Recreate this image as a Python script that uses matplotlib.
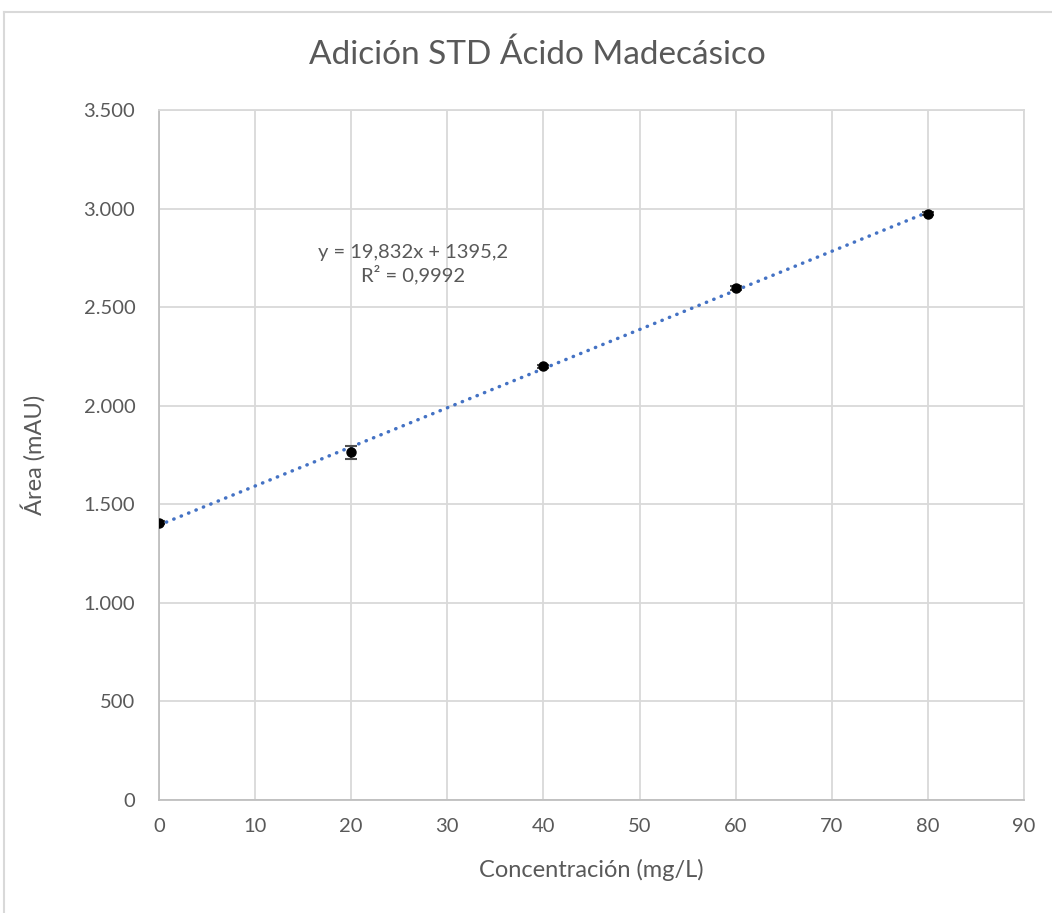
#!/usr/bin/env python3
import numpy as np
import matplotlib.pyplot as plt
from matplotlib.ticker import FuncFormatter, MultipleLocator
from matplotlib.lines import Line2D

conc = [0, 20, 40, 60, 80]
area = [1406, 1764, 2199, 2597, 2974]
area_err = [8, 33, 10, 8, 8]
eq_text = "y = 19,832x + 1395,2\nR² = 0,9992"

plt.rcParams['font.family'] = ['Lato', 'DejaVu Sans']
TXT = '#595959'
GRID = '#d9d9d9'

fig = plt.figure(figsize=(10.52, 9.13), dpi=100)
ax = fig.add_axes([0.1511, 0.1238, 0.8223, 0.7557])

# trendline (least squares, like Excel)
slope, icpt = np.polyfit(conc, area, 1)
xs = np.array([0, 80])
ax.plot(xs, slope * xs + icpt, ls=(0, (0.1, 2.2)), lw=2.5, color='#4472C4',
        dash_capstyle='round', zorder=3)

ax.errorbar(conc, area, yerr=area_err, fmt='o', color='black', ms=6.5,
            ecolor='#505050', elinewidth=1.3, capsize=4.5, capthick=1.5, zorder=4)

ax.text(26.4, 2718, eq_text, ha='center', va='center', fontsize=14.5,
        color=TXT, linespacing=1.25)

ax.set_xlim(0, 90)
ax.set_ylim(0, 3500)
ax.xaxis.set_major_locator(MultipleLocator(10))
ax.yaxis.set_major_locator(MultipleLocator(500))
ax.yaxis.set_major_formatter(FuncFormatter(lambda v, p: f"{int(v):,}".replace(',', '.')))
ax.grid(True, color=GRID, lw=1.3)
ax.set_axisbelow(True)
for s in ax.spines.values():
    s.set_color(GRID)
    s.set_linewidth(1.3)
ax.spines['left'].set_color('#bfbfbf')
ax.spines['bottom'].set_color('#bfbfbf')
ax.tick_params(length=0, labelsize=14.5, labelcolor=TXT)
ax.tick_params(axis='y', pad=17)
ax.tick_params(axis='x', pad=13)

fig.text(537 / 1052, 1 - 55 / 913, "Adición STD Ácido Madecásico", fontsize=24,
         color=TXT, ha='center', va='center')
ax.set_xlabel("Concentración (mg/L)", fontsize=17, color=TXT)
ax.set_ylabel("Área (mAU)", fontsize=17, color=TXT)
ax.xaxis.set_label_coords(0.5, -0.101)
ax.yaxis.set_label_coords(-0.146, 0.5)
ax.xaxis.label.set_va('center')
ax.yaxis.label.set_va('center')

# chart frame (top and left edges visible)
x0, y0 = 4 / 1052, 1 - 12 / 913
fig.add_artist(Line2D([x0, 1], [y0, y0], color=GRID, lw=1.5))
fig.add_artist(Line2D([x0, x0], [0, y0], color=GRID, lw=1.5))

fig.savefig('out.png', dpi=100, facecolor='white')
